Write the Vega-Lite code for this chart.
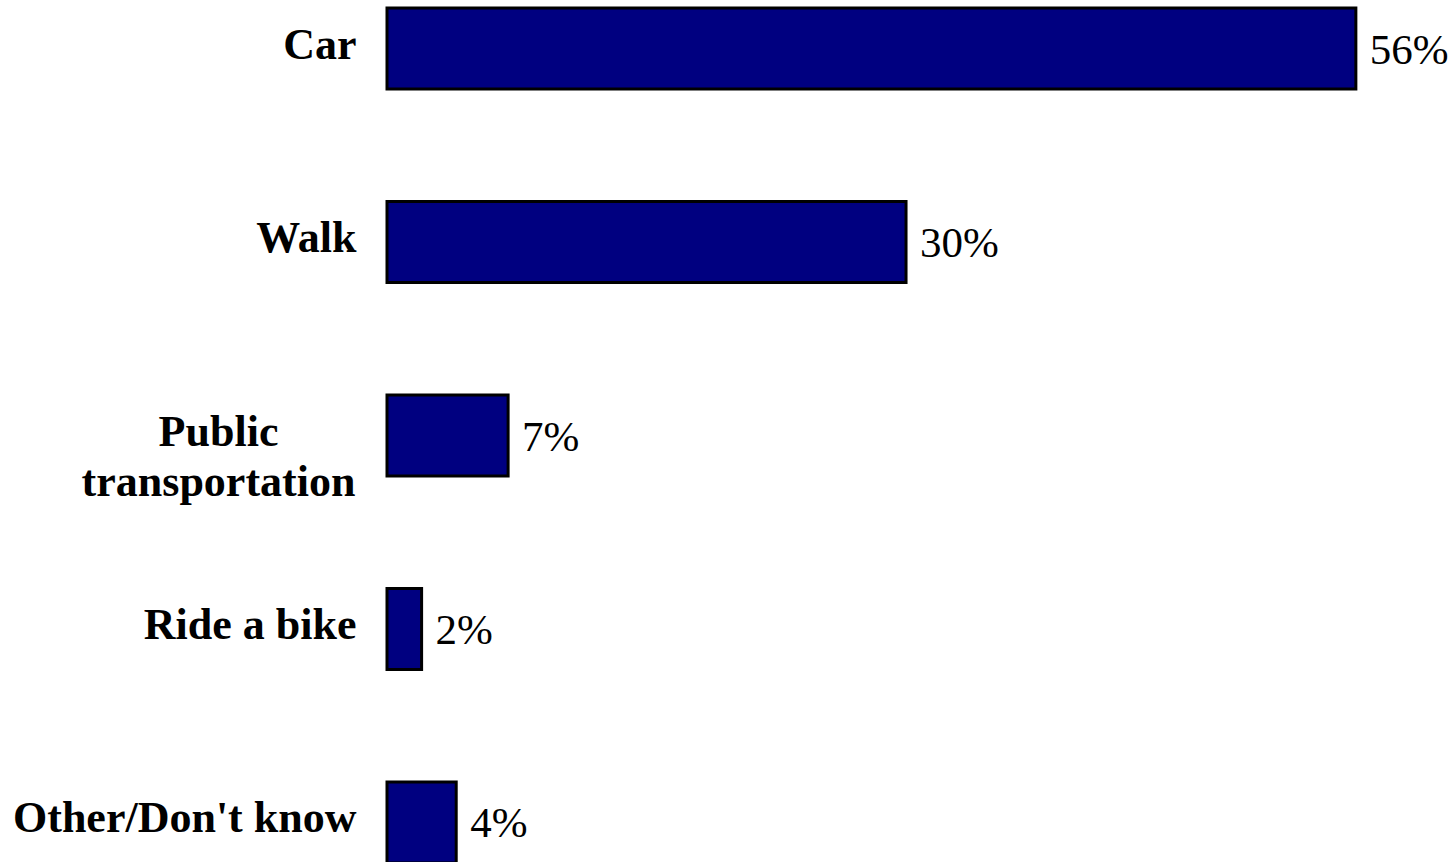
{
  "$schema": "https://vega.github.io/schema/vega-lite/v6.json",
  "autosize": {"type": "none"},
  "padding": {"left": 387, "top": 8, "right": 0, "bottom": 0},
  "width": 1068,
  "height": 855,
  "background": "white",
  "config": {"view": {"stroke": null}},
  "data": {
    "values": [
      {"mode": "Car", "share": 0.56},
      {"mode": "Walk", "share": 0.30},
      {"mode": "Public transportation", "share": 0.07},
      {"mode": "Ride a bike", "share": 0.02},
      {"mode": "Other/Don't know", "share": 0.04}
    ]
  },
  "encoding": {
    "y": {
      "field": "mode",
      "type": "nominal",
      "sort": null,
      "scale": {"paddingInner": 0.581, "paddingOuter": 0},
      "axis": {
        "title": null,
        "ticks": false,
        "domain": false,
        "labelFont": "Liberation Serif",
        "labelFontWeight": "bold",
        "labelFontSize": 44,
        "labelColor": "black",
        "labelLineHeight": 50,
        "labelLimit": 0,
        "labelOffset": -3,
        "labelExpr": "datum.label == 'Public transportation' ? ['Public', 'transportation'] : datum.label",
        "labelAlign": {"condition": {"test": "datum.value == 'Public transportation'", "value": "center"}, "value": "right"},
        "labelPadding": {"condition": {"test": "datum.value == 'Public transportation'", "value": 169}, "value": 31}
      }
    },
    "x": {
      "field": "share",
      "type": "quantitative",
      "scale": {"domain": [0, 0.6173], "nice": false},
      "axis": null
    }
  },
  "layer": [
    {
      "mark": {"type": "bar", "fill": "#000080", "stroke": "black", "strokeWidth": 3, "cornerRadius": 0}
    },
    {
      "mark": {"type": "text", "align": "left", "baseline": "middle", "dx": 14, "dy": 2, "font": "Liberation Serif", "fontSize": 43, "color": "black"},
      "encoding": {"text": {"field": "share", "type": "quantitative", "format": ".0%"}}
    }
  ]
}
